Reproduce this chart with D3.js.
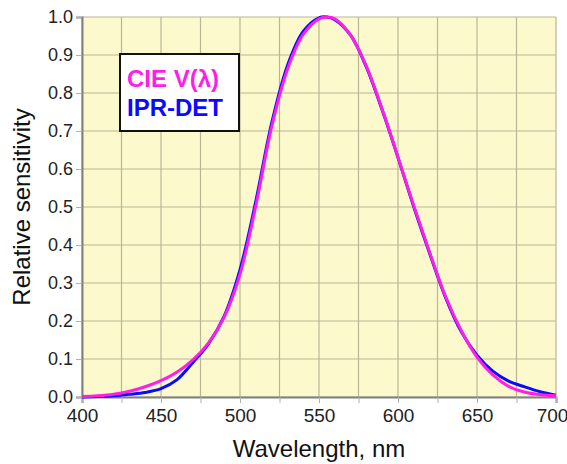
<!DOCTYPE html>
<html lang="en">
<head>
    <meta charset="utf-8">
    <title>Relative sensitivity</title>
    <script type="text/javascript" src="https://cdn.jsdelivr.net/npm/d3@7"></script>
    <style>
        body { margin: 0; background: #fff; }
        text { font-family: "Liberation Sans", Arial, sans-serif; }
    </style>
</head>
<body>
    <script type="text/javascript">
        // Width and height
        var w = 567;
        var h = 464;
        var margin = {top: 17, right: 11, bottom: 67, left: 82};

        // Data
        var wavelength = [400, 410, 420, 430, 440, 450, 460, 470, 480, 490, 500, 510, 520, 530, 540, 550, 555,
                          560, 570, 580, 590, 600, 610, 620, 630, 640, 650, 660, 670, 680, 690, 700];
        var cieV = [0.001, 0.003, 0.007, 0.015, 0.027, 0.043, 0.065, 0.097, 0.142, 0.21, 0.323, 0.503, 0.71,
                    0.862, 0.954, 0.995, 1.0, 0.995, 0.952, 0.87, 0.757, 0.631, 0.503, 0.381, 0.265, 0.175,
                    0.105, 0.058, 0.028, 0.013, 0.006, 0.003];
        var iprDet = [0.0, 0.001, 0.003, 0.007, 0.012, 0.022, 0.045, 0.09, 0.14, 0.213, 0.335, 0.515, 0.72,
                      0.872, 0.962, 0.998, 1.0, 0.993, 0.952, 0.868, 0.755, 0.63, 0.5, 0.378, 0.263, 0.172,
                      0.11, 0.068, 0.042, 0.027, 0.014, 0.005];

        var xTicks = [400, 450, 500, 550, 600, 650, 700];
        var xGrid = d3.range(400, 701, 25);
        var yTicks = d3.range(0, 1.01, 0.1);

        var seriesNames = ["CIE V(\u03bb)", "IPR-DET"];
        var seriesColors = ["#ff1ee8", "#0a0aff"];

        // Scales
        var xScale = d3.scaleLinear()
            .domain([400, 700])
            .range([margin.left, w - margin.right]);

        var yScale = d3.scaleLinear()
            .domain([0, 1])
            .range([h - margin.bottom, margin.top]);

        var svg = d3.select("body")
            .append("svg")
            .attr("width", w)
            .attr("height", h);

        // Plot background
        svg.append("rect")
            .attr("x", xScale(400))
            .attr("y", yScale(1))
            .attr("width", xScale(700) - xScale(400))
            .attr("height", yScale(0) - yScale(1))
            .attr("fill", "#fcfacc");

        // Grid
        svg.append("g")
            .selectAll("line")
            .data(xGrid)
            .enter()
            .append("line")
            .attr("x1", function(d) { return xScale(d); })
            .attr("x2", function(d) { return xScale(d); })
            .attr("y1", yScale(0))
            .attr("y2", yScale(1))
            .attr("stroke", "#b9b596")
            .attr("stroke-width", 1.2);

        svg.append("g")
            .selectAll("line")
            .data(yTicks)
            .enter()
            .append("line")
            .attr("x1", xScale(400))
            .attr("x2", xScale(700))
            .attr("y1", function(d) { return yScale(d); })
            .attr("y2", function(d) { return yScale(d); })
            .attr("stroke", "#b9b596")
            .attr("stroke-width", 1.2);

        // Axes
        var xAxis = d3.axisBottom(xScale)
            .tickValues(xGrid)
            .tickSize(6)
            .tickFormat(function(d) { return xTicks.indexOf(d) >= 0 ? d : ""; });

        var yAxis = d3.axisLeft(yScale)
            .tickValues(yTicks)
            .tickSize(6)
            .tickFormat(d3.format(".1f"));

        var gx = svg.append("g")
            .attr("transform", "translate(0," + yScale(0) + ")")
            .call(xAxis);
        gx.select(".domain").attr("stroke", "#808080").attr("stroke-width", 2);
        gx.selectAll(".tick line").attr("stroke", "#b0b0b0");
        gx.selectAll(".tick text")
            .attr("font-size", "19px")
            .attr("fill", "#222")
            .attr("y", 12)
            .attr("dx", function(d) { return d === 700 ? -4 : 0; });

        var gy = svg.append("g")
            .attr("transform", "translate(" + xScale(400) + ",0)")
            .call(yAxis);
        gy.select(".domain").attr("stroke", "#808080").attr("stroke-width", 2);
        gy.selectAll(".tick line").attr("stroke", "#b0b0b0");
        gy.selectAll(".tick text")
            .attr("font-size", "18px")
            .attr("fill", "#222")
            .attr("x", -9);

        // Curves: blue under magenta
        var line = d3.line()
            .x(function(d) { return xScale(d[0]); })
            .y(function(d) { return yScale(d[1]); })
            .curve(d3.curveCatmullRom);

        var lineData = [d3.zip(wavelength, iprDet), d3.zip(wavelength, cieV)];
        var lineColors = [seriesColors[1], seriesColors[0]];

        svg.selectAll("path.curve")
            .data(lineData)
            .enter()
            .append("path")
            .attr("class", "curve")
            .attr("d", line)
            .attr("fill", "none")
            .attr("stroke", function(d, i) { return lineColors[i]; })
            .attr("stroke-width", 3);

        // Legend
        svg.append("rect")
            .attr("x", 120)
            .attr("y", 54)
            .attr("width", 119)
            .attr("height", 77)
            .attr("fill", "#fff")
            .attr("stroke", "#111")
            .attr("stroke-width", 2);

        svg.selectAll("text.legend")
            .data(seriesNames)
            .enter()
            .append("text")
            .attr("class", "legend")
            .attr("x", 127)
            .attr("y", function(d, i) { return 87 + i * 29; })
            .attr("font-size", "24px")
            .attr("font-weight", "bold")
            .attr("fill", function(d, i) { return seriesColors[i]; })
            .text(function(d) { return d; });

        // Axis titles
        svg.append("text")
            .attr("x", (xScale(400) + xScale(700)) / 2)
            .attr("y", 457)
            .attr("text-anchor", "middle")
            .attr("font-size", "24px")
            .attr("fill", "#111")
            .text("Wavelength, nm");

        svg.append("text")
            .attr("transform", "translate(30," + yScale(0.5) + ") rotate(-90)")
            .attr("text-anchor", "middle")
            .attr("font-size", "24px")
            .attr("fill", "#111")
            .text("Relative sensitivity");
    </script>
</body>
</html>
